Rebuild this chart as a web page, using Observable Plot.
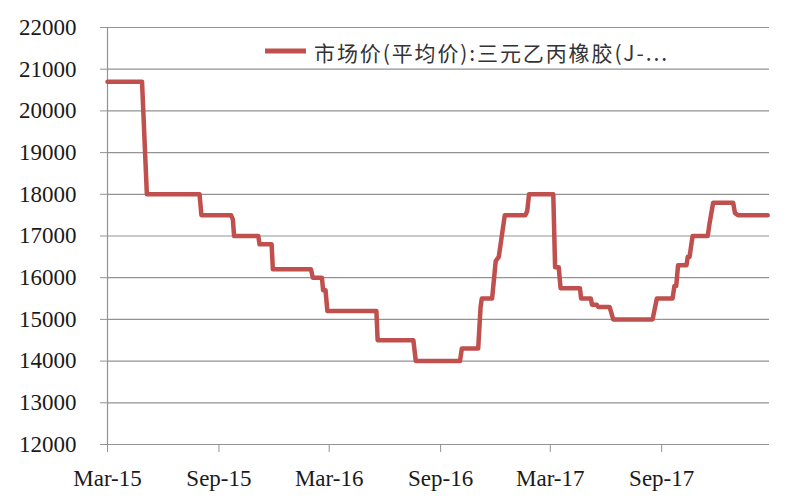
<!DOCTYPE html>
<html>
<head>
<meta charset="utf-8">
<script src="https://cdn.jsdelivr.net/npm/d3@7"></script>
<script src="https://cdn.jsdelivr.net/npm/@observablehq/plot@0.6"></script>
<style>
  html, body { margin: 0; padding: 0; background: #fff; }
  #chart { position: relative; width: 800px; height: 500px; }
  #chart svg text { font-family: "Liberation Serif", "Times New Roman", serif; }
</style>
</head>
<body>
<div id="chart"></div>
<script>
// Series: 市场价(平均价):三元乙丙橡胶(J-...)  — corner points
const dates = [
  "2015-03-01","2015-04-27","2015-05-05","2015-07-31","2015-08-03","2015-09-21","2015-09-24","2015-09-26",
  "2015-11-05","2015-11-07","2015-11-27","2015-11-29","2016-01-31","2016-02-03","2016-02-18","2016-02-20",
  "2016-02-24","2016-02-27","2016-05-18","2016-05-20","2016-07-18","2016-07-22","2016-10-03","2016-10-06",
  "2016-11-02","2016-11-06","2016-11-08","2016-11-25","2016-12-01","2016-12-06","2016-12-16","2017-01-19",
  "2017-01-22","2017-01-25","2017-03-06","2017-03-09","2017-03-15","2017-03-18","2017-04-19","2017-04-21",
  "2017-05-07","2017-05-09","2017-05-17","2017-05-19","2017-06-07","2017-06-13","2017-08-17","2017-08-24",
  "2017-09-19","2017-09-22","2017-09-25","2017-09-28","2017-10-12","2017-10-14","2017-10-17","2017-10-22",
  "2017-11-16","2017-11-19","2017-11-25","2017-12-28","2017-12-31","2018-01-05","2018-02-23"
];
const values = [
  20700,20700,18000,18000,17500,17500,17400,17000,
  17000,16800,16800,16200,16200,16000,16000,15700,
  15700,15200,15200,14500,14500,14000,14000,14300,
  14300,15300,15500,15500,16400,16500,17500,17500,
  17600,18000,18000,16250,16250,15750,15750,15500,
  15500,15350,15350,15300,15300,15000,15000,15500,
  15500,15800,15800,16300,16300,16500,16500,17000,
  17000,17300,17800,17800,17550,17500,17500
];
const seriesName = "市场价(平均价):三元乙丙橡胶(J-...";
const yTicks = [12000,13000,14000,15000,16000,17000,18000,19000,20000,21000,22000];
const xTickDates = ["2015-03-01","2015-09-01","2016-03-01","2016-09-01","2017-03-01","2017-09-01"];
const xDomainDates = ["2015-03-01","2018-02-26"];

const data = dates.map((d, i) => ({date: new Date(d), value: values[i]}));
const xTicks = xTickDates.map(d => new Date(d));
const xDomain = xDomainDates.map(d => new Date(d));
const fmt = d3.utcFormat("%b-%y");

const lineColor = "#C0504D";
const gridColor = "#939393";

const chart = Plot.plot({
  width: 800,
  height: 500,
  marginLeft: 107,
  marginRight: 31,
  marginTop: 27,
  marginBottom: 56,
  style: {fontSize: "23px", color: "#1a1a1a", background: "#fff"},
  x: {type: "utc", domain: xDomain},
  y: {domain: [yTicks[0], yTicks[yTicks.length - 1]]},
  marks: [
    Plot.gridY(yTicks, {stroke: gridColor, strokeOpacity: 1, strokeWidth: 1.2}),
    Plot.ruleX([xDomain[0]], {stroke: gridColor, strokeWidth: 1.2}),
    Plot.axisY(yTicks, {tickSize: 7, tickPadding: 24, stroke: gridColor, tickFormat: d => String(d), label: null, fill: "#1a1a1a", fontSize: 23}),
    Plot.axisX(xTicks, {tickSize: 8, tickPadding: 17, stroke: gridColor, tickFormat: fmt, label: null, fill: "#1a1a1a", fontSize: 23}),
    Plot.line(data, {x: "date", y: "value", stroke: lineColor, strokeWidth: 4.5, strokeLinejoin: "round", curve: "linear"})
  ]
});

document.getElementById("chart").appendChild(chart);

// Legend inside the plot area
const svg = d3.select(chart);
const lg = svg.append("g").attr("class", "legend");
lg.append("line").attr("x1", 265).attr("x2", 306).attr("y1", 51).attr("y2", 51)
  .attr("stroke", lineColor).attr("stroke-width", 5);
lg.append("text").attr("x", 314).attr("y", 52)
  .attr("text-anchor", "start")
  .attr("dominant-baseline", "central")
  .attr("style", "font-family: 'Noto Sans CJK SC', 'Noto Sans', sans-serif")
  .attr("font-size", 21)
  .attr("fill", "#333")
  .attr("textLength", 353)
  .attr("lengthAdjust", "spacing")
  .text(seriesName);
</script>
</body>
</html>
